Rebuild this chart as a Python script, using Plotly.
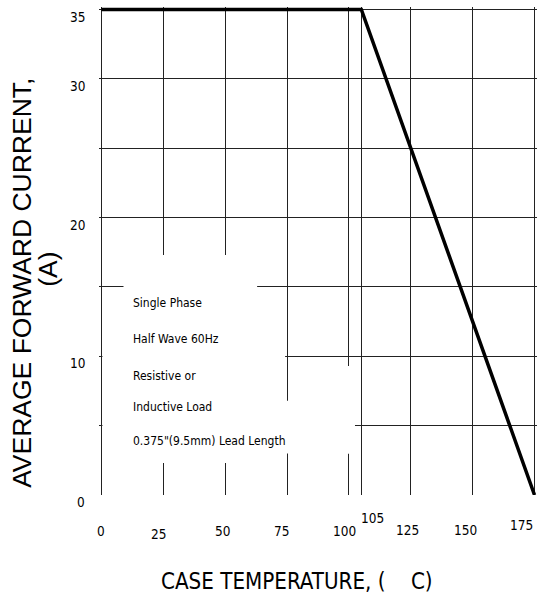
import plotly.graph_objects as go

# ---- data ----
case_temp = [0, 105, 175]          # deg C
avg_current = [35, 35, 0]          # A

grid_x = [0, 25, 50, 75, 100, 105, 125, 150, 175]
grid_y = [5, 10, 15, 20, 25, 30, 35]

x_tick_vals = [0, 25, 50, 75, 100, 105, 125, 150, 175]
x_tick_text = ["0", "25", "50", "75", "100", "105", "125", "150", "175"]
y_tick_vals = [0, 10, 20, 30, 35]
y_tick_text = ["0", "10", "20", "30", "35"]

note_lines = ["Single Phase", "Half Wave 60Hz", "Resistive or",
              "Inductive Load", "0.375\"(9.5mm) Lead Length"]

# ---- styling / placement (pixels) ----
x_tick_dx = [0, -5, -3, -6, -4, 11, -3, -7, -13]
x_tick_dy = [-36, -39, -36, -36, -36, -23, -35, -35, -30]
note_py = [303, 339, 376, 407, 441]   # page y of each note line

NARROW = "Liberation Sans Narrow, Arial Narrow, DejaVu Sans Condensed, sans-serif"
WIDE = "Liberation Sans, Arial, sans-serif"

OFF = 0                      # body margin removed in post_script
W, H = 538, 598
kx = 434 / 175.0             # px per deg C
x_range = [-1, 176]
plot_w = kx * (x_range[1] - x_range[0])
L = (101 - kx) - OFF
R = W - L - plot_w

y0_page, y35_page = 495, 9
ky = (y0_page - y35_page) / 35.0
T = 6.5
y_range = [0, 35 + (y35_page - OFF - T) / ky]
plot_h = ky * y_range[1]
B = H - T - plot_h


def paper_x(px):
    return (px - OFF - L) / plot_w


def paper_y(py):
    return (T + plot_h - (py - OFF)) / plot_h


fig = go.Figure()
fig.add_trace(go.Scatter(x=case_temp, y=avg_current, mode="lines",
                         line=dict(color="black", width=3.5),
                         hoverinfo="skip", showlegend=False))

# white boxes behind the notes (drawn between grid and traces)
boxes = [(8.9, 62.9, 2.3, 17.3), (0.4, 74.2, 9.4, 10.8),
         (0.4, 102.4, 3.0, 6.8), (94.4, 102.4, 3.0, 9.3)]
for x0, x1, y0, y1 in boxes:
    fig.add_shape(type="rect", xref="x", yref="y", x0=x0, x1=x1, y0=y0, y1=y1,
                  fillcolor="white", line=dict(width=0), layer="between")

anns = []
for v, t, dx, dy in zip(x_tick_vals, x_tick_text, x_tick_dx, x_tick_dy):
    anns.append(dict(x=v, y=0, xref="x", yref="y", text=t, showarrow=False,
                     xanchor="center", yanchor="middle", xshift=dx, yshift=dy,
                     font=dict(family=NARROW, size=13.5, color="black")))
for v, t in zip(y_tick_vals, y_tick_text):
    anns.append(dict(x=0, y=v, xref="x", yref="y", text=t, showarrow=False,
                     xanchor="right", yanchor="middle", xshift=-14, yshift=-7,
                     font=dict(family=NARROW, size=13.5, color="black")))
for t, py in zip(note_lines, note_py):
    anns.append(dict(x=paper_x(131), y=paper_y(py), xref="paper", yref="paper",
                     text=t, showarrow=False, xanchor="left", yanchor="middle",
                     font=dict(family=NARROW, size=12, color="black")))
# axis titles
anns.append(dict(x=paper_x(159), y=paper_y(581), xref="paper", yref="paper",
                 text="CASE TEMPERATURE, (\u00a0\u00a0\u00a0\u00a0C)", showarrow=False,
                 xanchor="left", yanchor="middle",
                 font=dict(family=NARROW, size=22.2, color="black")))
anns.append(dict(x=paper_x(22), y=paper_y(283), xref="paper", yref="paper",
                 text="AVERAGE FORWARD CURRENT,", showarrow=False, textangle=-90,
                 xanchor="center", yanchor="middle",
                 font=dict(family=WIDE, size=26.5, color="black")))
anns.append(dict(x=paper_x(48), y=paper_y(269), xref="paper", yref="paper",
                 text="(A)", showarrow=False, textangle=-90,
                 xanchor="center", yanchor="middle",
                 font=dict(family=WIDE, size=26.5, color="black")))

fig.update_layout(
    width=W, height=H,
    margin=dict(l=L, r=R, t=T, b=B, pad=0),
    paper_bgcolor="white", plot_bgcolor="white",
    annotations=anns,
    xaxis=dict(range=x_range, tickmode="array", tickvals=grid_x,
               showticklabels=False, ticks="", showgrid=True,
               gridcolor="#222", gridwidth=1, zeroline=False, showline=False,
               fixedrange=True),
    yaxis=dict(range=y_range, tickmode="array", tickvals=grid_y,
               showticklabels=False, ticks="", showgrid=True,
               gridcolor="#222", gridwidth=1, zeroline=False, showline=False,
               fixedrange=True),
)

fig.write_html("out.html",
               config={"displayModeBar": False, "staticPlot": True},
               post_script="document.body.style.margin='0';"
                           "document.body.style.overflow='hidden';")
